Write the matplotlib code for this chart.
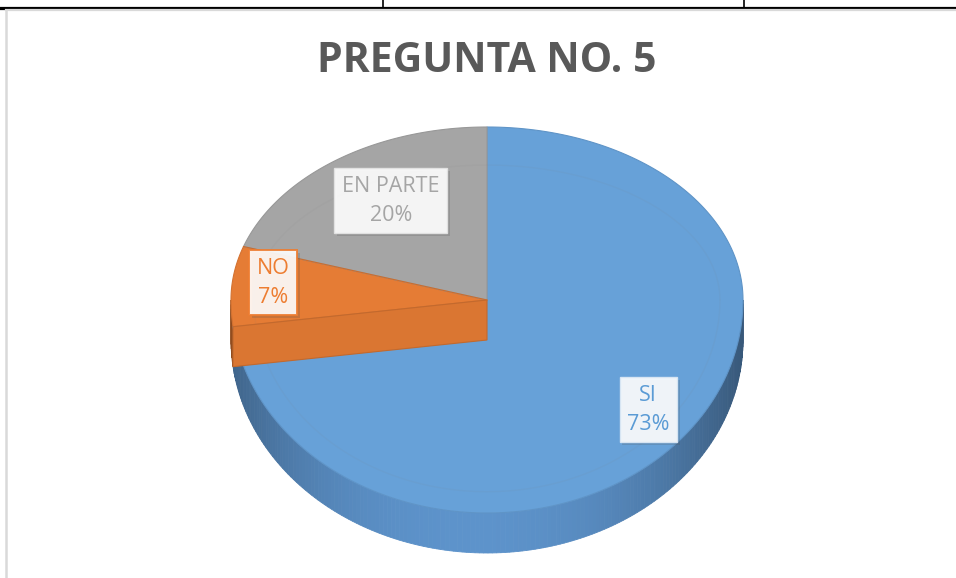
import numpy as np
import matplotlib
matplotlib.use('Agg')
from matplotlib import pyplot as plt
from matplotlib.patches import Polygon
import matplotlib.patheffects as pe

# chart data
labels = ['SI', 'NO', 'EN PARTE']
values = [73, 7, 20]
title = 'PREGUNTA NO. 5'

colors = ['#67a1d8', '#e57c35', '#a5a5a5']
wall_colors = ['#5d93cb', '#d46f2c', '#939393']
text_colors = ['#5b9bd5', '#ed7d31', '#a5a5a5']
box_edges = ['#dce8f5', '#ed7d31', '#e4e4e4']

plt.rcParams['font.family'] = ['Open Sans', 'DejaVu Sans']

# pie geometry in pixels (3d look: squashed ellipse, deeper front half)
cx, cy = 487, 300
rx, ry_top, ry_bot = 256, 173, 213
depth = 40


def edge(theta):
    theta = np.asarray(theta)
    s = np.sin(theta)
    ry = np.where(s > 0, ry_top, ry_bot)
    return cx + rx * np.cos(theta), cy - ry * s


def shade(hexcol, k):
    rgb = np.array(matplotlib.colors.to_rgb(hexcol))
    return tuple(np.clip(rgb * k, 0, 1))


fig = plt.figure(figsize=(9.56, 5.78), dpi=100)
ax = fig.add_axes([0, 0, 1, 1])
ax.set_xlim(0, 956)
ax.set_ylim(578, 0)
ax.axis('off')

# sheet grid lines and chart border
ax.plot([0, 956], [7.5, 7.5], color='black', lw=1.6, zorder=1)
ax.plot([383, 383], [0, 7], color='black', lw=1.2, zorder=1)
ax.plot([744, 744], [0, 7], color='black', lw=1.2, zorder=1)
ax.plot([0, 6], [8.5, 8.5], color='black', lw=1.6, zorder=1)
ax.plot([6.5, 956], [10, 10], color='#d9d9d9', lw=1.6, zorder=1)
ax.plot([6.5, 6.5], [10, 578], color='#d9d9d9', lw=1.8, zorder=1)

# slice angles, clockwise from 12 o'clock
total = float(sum(values))
bounds = [np.pi / 2]
for v in values:
    bounds.append(bounds[-1] - 2 * np.pi * v / total)

# front wall (visible range -pi..0)
for i in range(len(values)):
    a0, a1 = bounds[i], bounds[i + 1]
    lo, hi = min(a0, a1), max(a0, a1)
    for off in (0, -2 * np.pi, 2 * np.pi):
        s0, s1 = max(lo + off, -np.pi), min(hi + off, 0)
        if s1 <= s0:
            continue
        ts = np.linspace(s0, s1, max(int((s1 - s0) * 60), 2))
        for t0, t1 in zip(ts[:-1], ts[1:]):
            x, y = edge([t0, t1])
            tm = 0.5 * (t0 + t1)
            k = 1.0 - 0.32 * abs(np.cos(tm)) ** 2.5
            if np.cos(tm) > 0:
                k -= 0.08 * np.cos(tm)
            poly = Polygon([(x[0], y[0]), (x[1], y[1]),
                            (x[1], y[1] + depth), (x[0], y[0] + depth)],
                           closed=True, facecolor=shade(wall_colors[i], k),
                           edgecolor=shade(wall_colors[i], k), lw=0.6, zorder=2)
            ax.add_patch(poly)

# top faces
for i in range(len(values)):
    ts = np.linspace(bounds[i], bounds[i + 1], 200)
    x, y = edge(ts)
    pts = [(cx, cy)] + list(zip(x, y))
    ax.add_patch(Polygon(pts, closed=True, facecolor=colors[i],
                         edgecolor=shade(colors[i], 0.92), lw=0.8, zorder=3))

# inner side face of the NO slice (visible in the 3d view)
ix = 1
ex, ey = edge(bounds[ix])
ax.add_patch(Polygon([(cx, cy), (ex, ey), (ex, ey + depth), (cx, cy + depth)],
                     closed=True, facecolor=shade(colors[ix], 0.95),
                     edgecolor=shade(colors[ix], 0.85), lw=0.8, zorder=4))
ex2, ey2 = edge(bounds[ix + 1])
ax.plot([cx, ex2], [cy, ey2], color=shade(colors[ix], 0.88), lw=0.8, zorder=4)

# faint bevel line on top surface
tt = np.linspace(0, 2 * np.pi, 400)
ax.plot(cx + rx * 0.91 * np.cos(tt),
        cy - np.where(np.sin(tt) > 0, ry_top * 0.78, ry_bot * 0.9) * np.sin(tt),
        color='#808080', alpha=0.08, lw=1, zorder=3.5)

# data labels
label_pos = [(0.84, 0.78), (0.84, 1.05), (0.64, 0.71)]
for i in range(len(values)):
    mid = 0.5 * (bounds[i] + bounds[i + 1])
    s = np.sin(mid)
    ry = ry_top if s > 0 else ry_bot
    lx = cx + rx * label_pos[i][0] * np.cos(mid)
    ly = cy - ry * label_pos[i][1] * s
    ax.text(lx, ly, f'{labels[i]}\n{values[i]}%', ha='center', va='center',
            fontsize=15.5, color=text_colors[i], linespacing=1.5, zorder=6,
            bbox=dict(boxstyle='square,pad=0.35', facecolor='white', alpha=0.9,
                      edgecolor=box_edges[i], lw=1.4 if i == 1 else 1.0,
                      path_effects=[pe.withSimplePatchShadow(offset=(2, -2), alpha=0.2)]))

ax.text(487, 61, title, ha='center', va='center', fontsize=29.5,
        fontweight='bold', color='#595959', zorder=6)

fig.savefig('out.png', dpi=100)
